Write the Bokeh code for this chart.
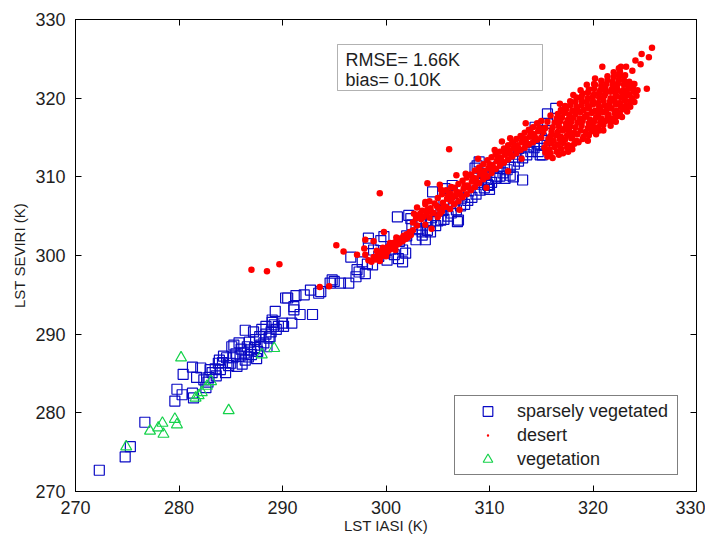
from bokeh.plotting import figure
from bokeh.models import (Range1d, LinearAxis, SingleIntervalTicker, Legend,
                          LegendItem, Label, BoxAnnotation)
from bokeh.embed import file_html
from bokeh.resources import INLINE

# ---------------- data (LST IASI, LST SEVIRI) in K ----------------
vegetation = [
    (274.9, 275.7), (280.2, 287.0), (277.2, 277.7), (278.4, 278.7), (278.0, 278.1),
    (278.5, 277.3), (279.6, 279.2), (279.8, 278.5), (284.8, 280.3), (281.9, 282.2),
    (282.2, 282.6), (282.7, 283.4), (283.1, 284.0), (288.0, 287.4), (289.2, 288.2),
    (281.6, 281.9),
]

sparse_low = [
    (272.3, 272.7), (274.8, 274.4), (275.3, 275.7), (276.7, 278.8), (279.6, 281.5),
    (279.8, 283.0), (280.4, 284.9), (281.3, 285.8), (282.1, 285.7), (281.7, 284.5),
    (280.3, 282.3), (281.3, 282.5), (281.4, 281.9), (282.4, 284.2), (283.2, 285.1),
    (283.9, 286.7), (282.9, 284.5), (283.0, 285.5), (283.8, 286.3), (284.3, 287.2),
    (284.5, 285.1), (285.0, 286.3), (284.6, 287.0), (284.0, 285.5), (285.1, 288.4),
    (285.3, 288.6), (285.6, 285.9), (285.9, 287.2), (286.4, 286.7), (286.4, 290.5),
    (286.6, 288.4), (286.9, 288.0), (287.2, 290.3), (287.4, 289.3), (287.9, 288.6),
    (288.0, 290.6), (288.7, 289.5), (288.8, 289.7), (289.0, 291.5), (289.0, 291.8),
    (289.2, 291.2), (289.3, 292.9), (290.0, 291.4), (290.1, 291.0), (290.3, 294.6),
    (290.5, 294.6), (290.9, 291.4), (291.1, 293.1), (291.1, 293.5), (291.3, 294.9),
    (291.7, 292.5), (292.1, 295.0), (292.7, 295.6), (292.9, 292.5), (293.5, 295.2),
    (293.7, 295.4), (294.6, 296.5), (294.8, 296.9), (295.0, 296.7), (295.6, 296.5),
    (296.4, 296.5),
    (285.5, 287.5), (286.0, 288.1), (286.3, 287.6), (286.8, 289.0), (287.0, 287.4),
    (287.3, 288.3), (287.6, 287.8), (287.8, 289.7), (288.2, 288.9), (288.4, 290.0),
    (288.9, 290.3), (286.1, 286.2), (285.2, 287.0), (287.5, 286.9), (288.5, 288.4),
    (286.7, 287.1), (285.8, 288.9), (284.8, 286.0), (284.2, 286.4), (283.5, 285.6),
    (282.8, 283.9), (282.6, 283.2), (283.6, 284.7), (289.4, 290.6), (289.6, 291.0),
    (288.4, 291.0),
]

sparse_mid = [
    (296.6, 299.8), (297.1, 297.3), (297.2, 298.2), (297.4, 297.9), (297.7, 299.2),
    (298.0, 297.7), (298.2, 298.9), (298.3, 301.5), (298.3, 302.2), (298.7, 298.8),
    (298.8, 300.7), (299.5, 301.9), (299.8, 302.4), (300.1, 299.4), (300.8, 300.1),
    (301.2, 299.6), (301.6, 299.2), (301.6, 300.7), (301.9, 300.3), (301.1, 304.9),
    (302.2, 305.1), (302.4, 304.7), (302.5, 303.9), (302.9, 302.0), (303.5, 303.0),
    (303.3, 304.5), (303.8, 302.0), (304.3, 303.0), (304.3, 304.3), (303.2, 303.4),
    (303.5, 302.6), (304.5, 308.1), (305.7, 308.5), (305.6, 307.0), (305.3, 305.8),
    (306.4, 308.9), (306.9, 304.3), (307.0, 304.5), (305.3, 304.5), (308.6, 311.1),
    (308.8, 311.4), (309.0, 311.9), (309.3, 310.4), (309.9, 308.9), (310.4, 311.1),
    (310.7, 310.0), (312.0, 310.2), (312.3, 310.0), (313.2, 309.6), (312.3, 313.6),
    (312.5, 312.5), (313.0, 314.2), (313.8, 313.8), (314.9, 312.8), (314.4, 316.3),
    (315.4, 315.9), (315.6, 318.0), (315.6, 316.8), (316.4, 318.7), (315.1, 312.8),
]

sparse_band = [
    (304.0, 303.2), (304.8, 303.8), (305.0, 304.4), (305.6, 304.6), (306.0, 305.0),
    (306.3, 305.4), (306.8, 305.8), (307.2, 306.3), (307.6, 306.5), (307.9, 307.0),
    (308.3, 307.4), (308.7, 307.8), (309.1, 308.3), (309.5, 308.6), (309.8, 309.0),
    (310.2, 309.3), (310.6, 309.8), (311.0, 310.1), (311.3, 310.5), (311.7, 310.9),
    (312.0, 311.2), (312.4, 311.6), (312.8, 312.0), (313.2, 312.4), (313.6, 312.8),
    (314.0, 313.2), (314.3, 313.7), (314.6, 314.2), (306.5, 306.6), (307.3, 307.3),
    (308.0, 308.2), (309.2, 309.3), (310.0, 308.4), (311.5, 309.8), (305.5, 305.7),
    (304.4, 304.8), (303.9, 304.3), (302.9, 303.4), (302.0, 302.5), (301.3, 301.8),
    (300.5, 300.8), (299.9, 300.3), (299.3, 299.9), (310.9, 311.3), (312.8, 313.6),
    (313.9, 314.4), (315.0, 314.9), (315.3, 314.0), (314.7, 313.2),
]

desert_outliers = [
    (287.0, 298.2), (288.5, 298.0), (289.7, 298.9), (293.6, 296.0), (294.5, 296.1),
    (295.2, 301.3), (295.9, 300.5), (297.2, 300.1), (298.0, 300.1), (297.9, 300.9),
    (298.0, 302.0), (298.8, 301.8), (299.8, 303.0), (299.4, 307.9), (306.1, 313.5),
    (304.0, 309.2), (303.8, 306.8),
    (325.7, 326.4), (324.7, 325.6), (325.4, 325.2), (324.1, 324.8), (324.6, 324.3),
    (320.9, 324.0), (322.7, 324.0), (323.2, 324.0), (323.8, 323.5), (323.1, 322.9),
    (320.1, 321.8), (323.9, 321.8), (325.2, 321.2), (323.5, 320.4), (323.2, 318.9),
    (320.6, 315.9), (322.3, 321.0),
    (305.2, 309.0), (306.8, 310.2), (308.9, 312.3), (311.2, 314.5), (313.5, 316.8),
    (309.7, 308.6), (311.8, 310.7), (307.1, 305.8), (304.4, 303.4), (313.1, 312.3),
]

desert_cluster300 = [
    (298.3, 299.4), (298.6, 299.2), (298.8, 299.8), (299.0, 299.5), (299.2, 300.1),
    (299.3, 299.7), (299.5, 300.4), (299.6, 299.9), (299.8, 300.6), (299.9, 300.2),
    (300.0, 300.9), (300.1, 300.4), (300.2, 301.1), (300.3, 300.7), (300.5, 301.3),
    (300.6, 300.9), (300.7, 301.6), (300.8, 301.1), (301.0, 301.8), (301.1, 301.4),
    (301.2, 302.0), (301.3, 301.6), (301.5, 302.2), (301.6, 301.8), (301.7, 302.5),
    (301.9, 302.1), (302.0, 302.7), (302.1, 302.3), (302.3, 303.0), (302.4, 302.6),
    (302.6, 303.2), (299.1, 300.6), (299.7, 301.0), (300.4, 301.6), (301.0, 302.3),
    (300.9, 300.7), (300.0, 299.9), (299.4, 299.3),
]

desert_band = [
    (302.6, 304.2), (302.7, 305.3), (303.0, 303.8), (303.1, 305.0), (303.0, 306.1),
    (303.4, 304.6), (303.5, 305.7), (303.8, 303.9), (303.9, 305.2), (303.8, 306.5),
    (304.2, 304.8), (304.3, 306.0), (304.2, 306.9), (304.6, 305.4), (304.7, 306.6),
    (305.0, 304.9), (305.1, 306.0), (305.0, 307.3), (305.4, 305.6), (305.5, 306.7),
    (305.4, 307.8), (305.8, 306.2), (305.9, 307.2), (305.8, 308.3), (306.2, 305.9),
    (306.3, 306.9), (306.2, 307.9), (306.3, 308.7), (306.6, 306.5), (306.7, 307.6),
    (306.6, 308.6), (307.0, 306.9), (307.1, 308.0), (307.0, 309.1), (307.4, 307.4),
    (307.5, 308.5), (307.4, 309.5), (307.8, 307.8), (307.9, 308.9), (307.8, 309.9),
    (308.2, 308.3), (308.3, 309.4), (308.2, 310.3), (308.6, 308.7), (308.7, 309.8),
    (308.6, 310.8), (309.0, 309.2), (309.1, 310.3), (309.0, 311.2), (309.4, 309.7),
    (309.5, 310.7), (309.4, 311.6), (309.8, 310.0), (309.9, 311.1), (309.8, 312.1),
    (310.2, 310.5), (310.3, 311.5), (310.2, 312.5), (310.6, 311.0), (310.7, 312.0),
    (310.6, 312.9), (311.0, 311.4), (311.1, 312.4), (311.0, 313.2), (311.4, 311.8),
    (311.5, 312.8), (311.4, 313.6), (311.8, 312.2), (311.9, 313.3), (311.8, 314.0),
    (312.2, 312.6), (312.3, 313.6), (312.2, 314.4), (312.6, 313.0), (312.7, 314.0),
    (312.6, 314.8), (313.0, 313.4), (313.1, 314.4), (313.0, 315.2), (313.4, 313.7),
    (313.5, 314.8), (313.4, 315.6), (313.8, 314.1), (313.9, 315.1), (313.8, 316.0),
    (314.2, 314.4), (314.3, 315.4), (314.2, 316.3), (314.6, 314.7), (314.7, 315.8),
    (314.6, 316.8), (315.0, 315.0), (315.1, 316.1), (315.0, 317.1),
    (302.9, 304.7), (303.3, 305.3), (303.6, 304.9), (304.0, 305.8), (304.4, 305.5),
    (304.9, 306.3), (305.2, 305.3), (305.6, 306.2), (306.0, 307.6), (306.4, 307.3),
    (306.8, 308.1), (307.2, 307.7), (307.6, 308.9), (308.0, 308.6), (308.4, 309.9),
    (308.8, 309.3), (309.2, 310.7), (309.6, 310.2), (310.0, 311.6), (310.4, 311.1),
    (310.8, 312.5), (311.2, 312.0), (311.6, 313.3), (312.0, 312.9), (312.4, 314.0),
    (312.8, 313.6), (313.2, 314.9), (313.6, 314.3), (314.0, 315.6), (314.4, 315.0),
    (314.8, 316.2), (315.2, 315.7), (307.7, 310.4), (310.5, 313.4), (305.3, 308.4),
    (312.0, 314.9),
]

desert_blob = [
    (315.6, 312.6), (316.1, 312.4), (316.7, 312.8),
    (315.4, 313.1), (315.9, 313.0), (316.5, 313.2), (317.1, 313.0),
    (315.3, 313.7), (315.8, 313.5), (316.3, 313.8), (316.9, 313.6), (317.5, 313.7), (318.0, 313.5),
    (315.5, 314.2), (316.0, 314.3), (316.6, 314.1), (317.1, 314.3), (317.6, 314.0), (318.2, 314.2),
    (318.6, 314.4),
    (315.7, 314.8), (316.2, 314.6), (316.8, 314.8), (317.3, 314.7), (317.9, 314.9), (318.4, 314.6),
    (319.0, 314.8),
    (315.9, 315.2), (316.4, 315.3), (316.9, 315.1), (317.5, 315.3), (318.0, 315.2), (318.5, 315.4),
    (319.1, 315.1), (319.6, 315.3),
    (316.0, 315.8), (316.6, 315.7), (317.1, 315.9), (317.7, 315.8), (318.2, 315.6), (318.8, 315.9),
    (319.3, 315.7), (319.9, 315.8), (320.4, 316.0),
    (316.1, 316.3), (316.7, 316.4), (317.3, 316.2), (317.8, 316.4), (318.3, 316.3), (318.9, 316.5),
    (319.5, 316.2), (320.0, 316.4), (320.5, 316.3), (321.0, 316.6),
    (316.3, 316.9), (316.8, 317.0), (317.4, 316.8), (317.9, 317.0), (318.5, 316.9), (319.0, 317.1),
    (319.6, 316.8), (320.1, 317.0), (320.7, 316.9), (321.2, 317.1), (321.7, 317.0),
    (316.5, 317.4), (317.0, 317.5), (317.6, 317.3), (318.1, 317.5), (318.7, 317.4), (319.2, 317.6),
    (319.7, 317.3), (320.3, 317.5), (320.8, 317.4), (321.4, 317.6), (321.9, 317.4), (322.3, 317.7),
    (316.6, 318.0), (317.2, 318.1), (317.7, 317.9), (318.3, 318.0), (318.8, 318.2), (319.4, 317.9),
    (319.9, 318.1), (320.5, 318.0), (321.0, 318.2), (321.5, 317.9), (322.1, 318.1), (322.6, 318.0),
    (316.9, 318.5), (317.4, 318.6), (318.0, 318.4), (318.5, 318.6), (319.1, 318.5), (319.6, 318.7),
    (320.2, 318.4), (320.7, 318.6), (321.3, 318.5), (321.8, 318.7), (322.3, 318.4), (322.9, 318.6),
    (317.3, 319.0), (317.8, 319.1), (318.4, 318.9), (318.9, 319.1), (319.5, 319.0), (320.0, 319.2),
    (320.6, 318.9), (321.1, 319.1), (321.6, 319.0), (322.2, 319.2), (322.7, 318.9), (323.2, 319.1),
    (317.8, 319.6), (318.3, 319.5), (318.9, 319.7), (319.4, 319.5), (320.0, 319.6), (320.5, 319.4),
    (321.0, 319.7), (321.6, 319.5), (322.1, 319.6), (322.6, 319.4), (323.1, 319.7), (323.6, 319.6),
    (318.4, 320.1), (318.9, 320.2), (319.5, 320.0), (320.0, 320.2), (320.6, 320.1), (321.1, 320.3),
    (321.7, 320.0), (322.2, 320.2), (322.7, 320.1), (323.2, 320.3), (323.8, 320.0),
    (319.0, 320.6), (319.5, 320.7), (320.1, 320.5), (320.6, 320.7), (321.2, 320.6), (321.7, 320.8),
    (322.2, 320.5), (322.8, 320.7), (323.3, 320.6), (323.9, 320.8),
    (319.6, 321.1), (320.1, 321.2), (320.7, 321.0), (321.2, 321.2), (321.8, 321.1), (322.3, 321.3),
    (322.9, 321.0), (323.4, 321.2), (323.9, 321.1),
    (320.2, 321.7), (320.8, 321.6), (321.3, 321.8), (321.9, 321.6), (322.4, 321.8), (323.0, 321.7),
    (323.5, 321.6), (324.0, 321.8),
    (320.8, 322.2), (321.4, 322.3), (321.9, 322.1), (322.5, 322.3), (323.0, 322.2), (323.5, 322.1),
    (321.4, 322.8), (322.0, 322.7), (322.5, 322.9), (323.0, 322.8),
    (322.0, 323.3), (322.6, 323.4), (322.5, 323.8),
    (316.8, 319.3), (318.1, 320.4), (318.8, 321.0), (319.4, 321.7), (320.2, 322.5), (315.4, 316.2),
    (315.6, 317.0), (315.9, 317.8), (317.6, 313.2), (317.9, 313.9), (319.5, 314.6), (320.3, 315.4),
    (321.0, 315.9), (321.7, 316.5), (322.2, 317.0), (322.8, 317.6), (323.3, 318.3), (323.6, 318.9),
    (324.0, 319.5), (324.2, 320.3), (324.3, 321.0),
]

ticks = [270, 280, 290, 300, 310, 320, 330]

sparse = sparse_low + sparse_mid + sparse_band
desert = desert_outliers + desert_cluster300 + desert_band + desert_blob

FONT = "Liberation Sans"
BLUE = "#0a0ac4"
GREEN = "#14d24a"
RED = "#ff0000"
TXT = "#1e1e1e"

p = figure(width=705, height=536, output_backend="svg", toolbar_location=None,
           x_range=Range1d(270, 330), y_range=Range1d(270, 330),
           min_border_left=75, min_border_right=9, min_border_top=19,
           min_border_bottom=44)
p.grid.visible = False
p.outline_line_color = "black"
p.outline_line_width = 1
p.background_fill_color = "white"
p.border_fill_color = "white"

p.xaxis.axis_label = "LST IASI (K)"
p.yaxis.axis_label = "LST SEVIRI (K)"
for ax in (p.xaxis[0], p.yaxis[0]):
    ax.ticker = SingleIntervalTicker(interval=10)
    ax.major_tick_in = 6
    ax.major_tick_out = 0
    ax.minor_tick_line_color = None
    ax.axis_line_color = "black"
    ax.major_tick_line_color = "black"
    ax.major_label_text_font = FONT
    ax.major_label_text_font_size = "18px"
    ax.major_label_text_color = TXT
    ax.axis_label_text_font = FONT
    ax.axis_label_text_font_size = "15px"
    ax.axis_label_text_font_style = "normal"
    ax.axis_label_text_color = TXT
p.xaxis[0].major_label_standoff = 5
p.xaxis[0].axis_label_standoff = 0
p.yaxis[0].major_label_standoff = 6
p.yaxis[0].axis_label_standoff = 4

for side in ("above", "right"):
    ax = LinearAxis(ticker=SingleIntervalTicker(interval=10), major_tick_in=6,
                    major_tick_out=0, minor_tick_line_color=None,
                    major_label_text_font_size="0px", major_label_standoff=0,
                    major_label_overrides={t: "" for t in ticks},
                    axis_line_color="black", major_tick_line_color="black")
    p.add_layout(ax, side)

desert_x = [d[0] for d in desert]
desert_y = [d[1] for d in desert]

sq = p.scatter([d[0] for d in sparse], [d[1] for d in sparse], marker="square",
               size=10, line_color=BLUE, line_width=1.2, fill_color=None)
de = p.scatter(desert_x, desert_y, marker="circle",
               size=6.5, line_color=None, fill_color=RED)
ve = p.scatter([d[0] for d in vegetation], [d[1] for d in vegetation],
               marker="triangle", size=11, line_color=GREEN, line_width=1.2,
               fill_color=None)
# legend key for desert: a small dot drawn on top of the first desert point
de_key = p.scatter(desert_x[:1], desert_y[:1], marker="dot", size=10,
                   line_color=RED, fill_color=RED)

# statistics box
p.add_layout(BoxAnnotation(left=262, right=467, top=447, bottom=401,
                           left_units="screen", right_units="screen",
                           top_units="screen", bottom_units="screen",
                           fill_color="white", fill_alpha=1,
                           line_color="black", line_width=1))
for txt, yy in (("RMSE= 1.66K", 432), ("bias= 0.10K", 412)):
    p.add_layout(Label(x=270, y=yy, x_units="screen", y_units="screen", text=txt,
                       text_font=FONT, text_font_size="18px", text_color=TXT,
                       text_baseline="middle"))

legend = Legend(items=[LegendItem(label="sparsely vegetated", renderers=[sq]),
                       LegendItem(label="desert", renderers=[de_key]),
                       LegendItem(label="vegetation", renderers=[ve])],
                location=(379, 16), orientation="vertical",
                glyph_width=59, glyph_height=24, label_height=24, label_width=157,
                label_standoff=0, padding=3, spacing=0, margin=0,
                label_text_font=FONT, label_text_font_size="18px",
                label_text_color=TXT, label_text_baseline="middle",
                border_line_color="black", border_line_width=1,
                background_fill_color="white", background_fill_alpha=1)
p.add_layout(legend)

open("out.html", "w").write(file_html(p, INLINE))
